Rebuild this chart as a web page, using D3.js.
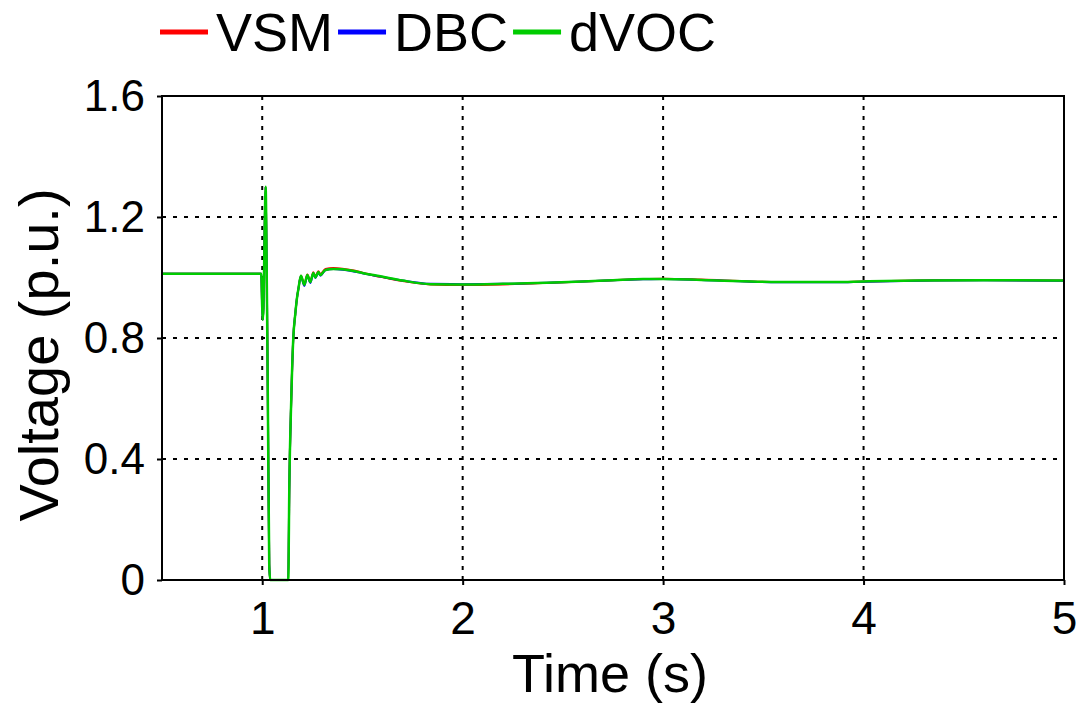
<!DOCTYPE html>
<html>
<head>
<meta charset="utf-8">
<script src="https://cdn.jsdelivr.net/npm/d3@7"></script>
<style>
  html, body { margin: 0; padding: 0; background: #fff; }
  svg { display: block; font-family: "Liberation Sans", Arial, sans-serif; }
</style>
</head>
<body>
<svg id="chart" width="1076" height="713"></svg>
<script>
// Time axis samples (s)
const time = [0.5, 0.995, 1.0, 1.003, 1.006, 1.012, 1.017, 1.022, 1.028, 1.035, 1.04, 1.13, 1.135, 1.145, 1.155, 1.165, 1.175, 1.18, 1.193, 1.21, 1.225, 1.24, 1.255, 1.265, 1.28, 1.29, 1.315, 1.355, 1.4, 1.45, 1.5, 1.59, 1.7, 1.84, 2.0, 2.2, 2.42, 2.6, 2.75, 2.9, 3.0, 3.19, 3.44, 3.65, 3.86, 4.0, 4.27, 4.6, 5.0];

// Terminal voltage (p.u.) for each controller
const vsm  = [1.012, 1.012, 0.90, 0.86, 0.90, 1.15, 1.30, 1.05, 0.60, 0.05, 0.0, 0.0, 0.30, 0.60, 0.80, 0.88, 0.94, 0.96, 1.006, 0.978, 1.010, 0.988, 1.017, 1.003, 1.021, 1.011, 1.028, 1.031, 1.029, 1.024, 1.016, 1.002, 0.988, 0.977, 0.975, 0.977, 0.982, 0.987, 0.991, 0.995, 0.996, 0.993, 0.987, 0.985, 0.985, 0.987, 0.990, 0.992, 0.990];
const dbc  = [1.012, 1.012, 0.90, 0.86, 0.90, 1.15, 1.30, 1.05, 0.60, 0.05, 0.0, 0.0, 0.30, 0.60, 0.80, 0.88, 0.94, 0.96, 1.004, 0.972, 1.006, 0.982, 1.013, 0.998, 1.016, 1.006, 1.024, 1.028, 1.026, 1.021, 1.014, 1.003, 0.990, 0.979, 0.978, 0.979, 0.983, 0.987, 0.991, 0.994, 0.995, 0.992, 0.986, 0.984, 0.984, 0.986, 0.989, 0.991, 0.989];
const dvoc = [1.012, 1.012, 0.90, 0.86, 0.90, 1.15, 1.30, 1.05, 0.60, 0.05, 0.0, 0.0, 0.30, 0.60, 0.80, 0.88, 0.94, 0.96, 1.006, 0.976, 1.008, 0.985, 1.015, 1.000, 1.018, 1.008, 1.025, 1.028, 1.027, 1.022, 1.015, 1.004, 0.990, 0.978, 0.977, 0.979, 0.983, 0.987, 0.991, 0.995, 0.995, 0.992, 0.987, 0.985, 0.985, 0.987, 0.990, 0.991, 0.990];

const seriesNames  = ["VSM", "DBC", "dVOC"];
const seriesColors = ["#ff0000", "#0000ff", "#00cc00"];
const xTicks = [1, 2, 3, 4, 5];
const yTicks = [0, 0.4, 0.8, 1.2, 1.6];
const xLabel = "Time (s)";
const yLabel = "Voltage (p.u.)";

const svg = d3.select("#chart");
const margin = { left: 162, right: 12, top: 96, bottom: 133 };
const W = 1076, H = 713;
const x = d3.scaleLinear().domain([0.5, 5]).range([margin.left, W - margin.right]);
const y = d3.scaleLinear().domain([0, 1.6]).range([H - margin.bottom, margin.top]);

// Dotted grid
const grid = svg.append("g");
grid.selectAll("line.gx").data(xTicks.slice(0, -1)).join("line")
  .attr("x1", d => x(d)).attr("x2", d => x(d))
  .attr("y1", y(0)).attr("y2", y(1.6))
  .attr("stroke", "#000").attr("stroke-width", 2).attr("stroke-dasharray", "4,6");
grid.selectAll("line.gy").data(yTicks.slice(1, -1)).join("line")
  .attr("x1", x(0.5)).attr("x2", x(5))
  .attr("y1", d => y(d)).attr("y2", d => y(d))
  .attr("stroke", "#000").attr("stroke-width", 2).attr("stroke-dasharray", "4,7");

// Voltage traces
const series = [vsm, dbc, dvoc];
const line = d3.line().x((d, i) => x(time[i])).y(d => y(d)).curve(d3.curveMonotoneX);
const traces = svg.append("g");
series.forEach((vals, k) => {
  traces.append("path").datum(vals)
    .attr("d", line)
    .attr("fill", "none")
    .attr("stroke", seriesColors[k])
    .attr("stroke-width", k === 2 ? 2.5 : 2)
    .attr("stroke-linejoin", "round");
});

// Frame
svg.append("rect")
  .attr("x", x(0.5)).attr("y", y(1.6))
  .attr("width", x(5) - x(0.5)).attr("height", y(0) - y(1.6))
  .attr("fill", "none").attr("stroke", "#000").attr("stroke-width", 2);

// Axes
const xAxis = svg.append("g").attr("transform", `translate(0,${y(0)})`)
  .call(d3.axisBottom(x).tickValues(xTicks).tickFormat(d3.format("d")).tickSize(5).tickPadding(16));
const yAxis = svg.append("g").attr("transform", `translate(${x(0.5)},0)`)
  .call(d3.axisLeft(y).tickValues(yTicks).tickFormat(d => d === 0 ? "0" : d3.format(".1f")(d)).tickSize(5).tickPadding(12));
[xAxis, yAxis].forEach(a => {
  a.select(".domain").remove();
  a.selectAll(".tick line").attr("stroke", "#000").attr("stroke-width", 2);
  a.selectAll(".tick text").attr("fill", "#000")
    .attr("font-family", "'Liberation Sans', Arial, sans-serif");
});
xAxis.selectAll(".tick text").attr("font-size", 46);
yAxis.selectAll(".tick text").attr("font-size", 44);

// Axis titles
svg.append("text").attr("x", 610).attr("y", 692)
  .attr("text-anchor", "middle").attr("font-size", 54).attr("fill", "#000").text(xLabel);
svg.append("text").attr("transform", "translate(58,355) rotate(-90)")
  .attr("text-anchor", "middle").attr("font-size", 56).attr("fill", "#000").text(yLabel);

// Legend
const legend = svg.append("g");
let lx = 160;
seriesNames.forEach((name, k) => {
  legend.append("line").attr("x1", lx).attr("x2", lx + 48)
    .attr("y1", 32).attr("y2", 32)
    .attr("stroke", seriesColors[k]).attr("stroke-width", 5);
  const t = legend.append("text").attr("x", lx + 56).attr("y", 51)
    .attr("font-size", 54).attr("fill", "#000").text(name);
  lx = lx + 56 + t.node().getComputedTextLength() + 5;
});
</script>
</body>
</html>
